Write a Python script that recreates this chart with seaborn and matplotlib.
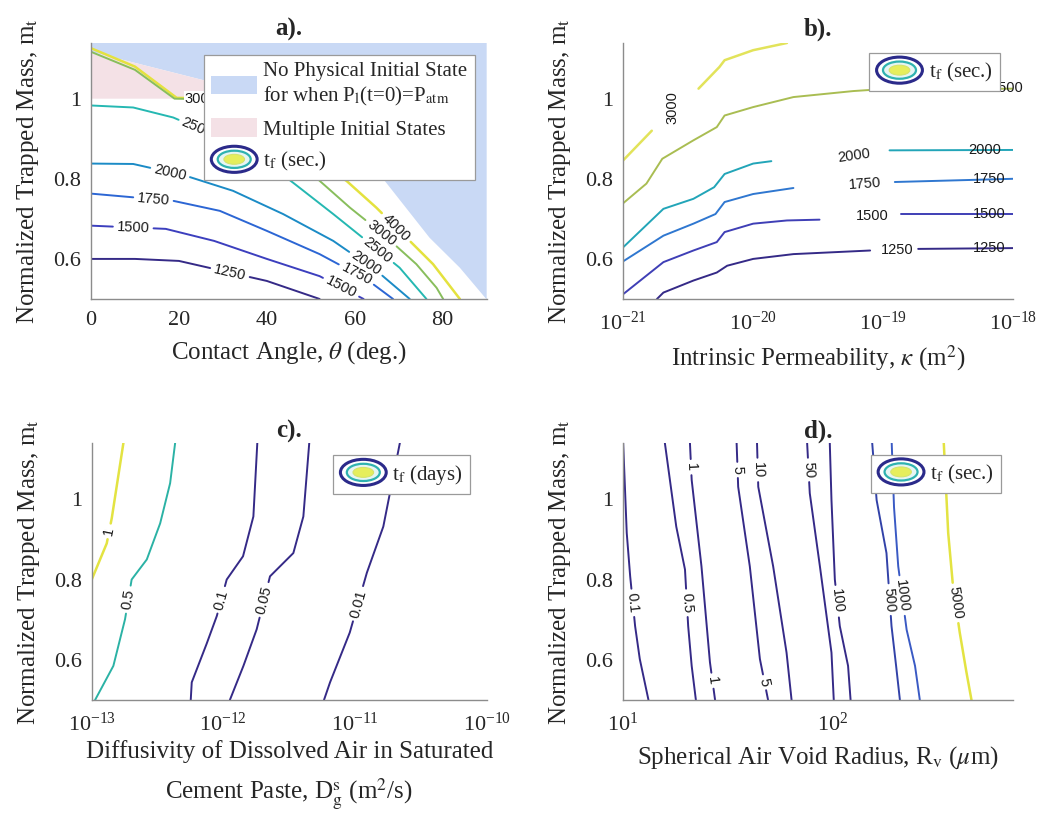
import numpy as np
import matplotlib
matplotlib.use("Agg")
import matplotlib.pyplot as plt
import seaborn as sns
from matplotlib.patches import Ellipse, Patch
from matplotlib.legend_handler import HandlerBase
from matplotlib.font_manager import FontProperties
from matplotlib.ticker import FixedLocator, FuncFormatter, LogLocator, NullFormatter

# =========================================
# DATA
# =========================================

# a) contact angle (deg) vs normalized trapped mass, t_f contours (sec.)
a_theta_1250 = [0, 10, 20, 30, 40, 52]
a_mt_1250 = [0.600, 0.600, 0.595, 0.570, 0.545, 0.500]
a_theta_1500 = [0, 17, 28, 40, 52, 62]
a_mt_1500 = [0.683, 0.675, 0.645, 0.600, 0.557, 0.500]
a_theta_1750 = [0, 18.7, 29.3, 40, 52, 62.7, 68.7]
a_mt_1750 = [0.763, 0.745, 0.720, 0.670, 0.612, 0.549, 0.500]
a_theta_2000 = [0, 9.6, 21.7, 32.3, 43.7, 55.1, 65, 72.5]
a_mt_2000 = [0.838, 0.837, 0.807, 0.770, 0.712, 0.645, 0.570, 0.500]
a_theta_2500 = [0, 9.6, 18.7, 30, 40, 46, 55.1, 62.7, 70.2, 76.3]
a_mt_2500 = [0.983, 0.978, 0.953, 0.900, 0.840, 0.790, 0.712, 0.645, 0.578, 0.500]
a_theta_3000 = [0, 10, 19, 25, 35, 45, 52, 58.9, 66.4, 74, 78.6, 80.1]
a_mt_3000 = [1.117, 1.072, 1.000, 0.999, 0.930, 0.860, 0.795, 0.728, 0.662, 0.587, 0.528, 0.500]
a_theta_4000 = [0, 10, 19.5, 25, 40, 58.1, 64.9, 72.5, 77.8, 83.9]
a_mt_4000 = [1.126, 1.080, 1.002, 1.001, 0.920, 0.795, 0.728, 0.645, 0.587, 0.500]

# regions in a)
a_nophys_theta = [0, 0, 26, 45, 66.8, 77, 83.9, 89.9, 90, 90]
a_nophys_mt = [1.14, 1.117, 1.045, 0.95, 0.795, 0.653, 0.578, 0.50, 0.50, 1.14]
a_multi_theta = [0, 0, 26, 32]
a_multi_mt = [1.0, 1.117, 1.045, 1.0]

# b) intrinsic permeability (m^2), t_f contours (sec.)
b_k_1250 = [1.82e-21, 2.04e-21, 3.47e-21, 5.25e-21, 6.31e-21, 1.0e-20, 2.04e-20, 7.94e-20]
b_mt_1250 = [0.500, 0.516, 0.546, 0.566, 0.583, 0.600, 0.612, 0.621]
b_k_1250r = [1.86e-19, 1.0e-18]
b_mt_1250r = [0.625, 0.627]
b_k_1500 = [1.0e-21, 2.04e-21, 3.47e-21, 5.25e-21, 6.03e-21, 1.0e-20, 1.82e-20, 3.24e-20]
b_mt_1500 = [0.512, 0.592, 0.621, 0.642, 0.667, 0.688, 0.696, 0.698]
b_k_1500r = [1.38e-19, 1.0e-18]
b_mt_1500r = [0.712, 0.712]
b_k_1750 = [1.0e-21, 2.04e-21, 3.47e-21, 5.13e-21, 6.03e-21, 1.0e-20, 2.04e-20]
b_mt_1750 = [0.594, 0.658, 0.688, 0.712, 0.742, 0.762, 0.777]
b_k_1750r = [1.23e-19, 1.0e-18]
b_mt_1750r = [0.792, 0.800]
b_k_2000 = [1.0e-21, 2.04e-21, 3.47e-21, 5.01e-21, 6.03e-21, 1.0e-20, 1.38e-20]
b_mt_2000 = [0.629, 0.725, 0.750, 0.779, 0.812, 0.838, 0.844]
b_k_2000r = [1.12e-19, 1.0e-18]
b_mt_2000r = [0.871, 0.872]
b_k_2500 = [1.0e-21, 1.51e-21, 2.0e-21, 3.47e-21, 5.25e-21, 6.03e-21, 1.0e-20, 2.04e-20, 5.89e-20, 8.13e-20, 1.0e-18]
b_mt_2500 = [0.739, 0.788, 0.850, 0.896, 0.929, 0.958, 0.979, 1.004, 1.019, 1.022, 1.025]
b_k_3000 = [1.0e-21, 1.66e-21]
b_mt_3000 = [0.846, 0.920]
b_k_3000r = [3.8e-21, 5.5e-21, 6.03e-21, 1.0e-20, 1.82e-20]
b_mt_3000r = [1.025, 1.079, 1.096, 1.121, 1.139]

# c) diffusivity of dissolved air (m^2/s), t_f contours (days)
c_d_1 = [1.0e-13, 1.30e-13, 1.42e-13, 1.74e-13]
c_mt_1 = [0.80, 0.89, 0.953, 1.14]
c_d_05 = [1.06e-13, 1.46e-13, 1.79e-13, 2.01e-13, 2.62e-13, 3.31e-13, 3.94e-13, 4.30e-13]
c_mt_05 = [0.50, 0.585, 0.701, 0.80, 0.85, 0.94, 1.04, 1.14]
c_d_01 = [5.65e-13, 5.75e-13, 7.46e-13, 8.91e-13, 1.06e-12, 1.41e-12, 1.69e-12, 1.81e-12]
c_mt_01 = [0.50, 0.544, 0.64, 0.709, 0.80, 0.858, 0.957, 1.14]
c_d_005 = [1.12e-12, 1.42e-12, 1.79e-12, 2.26e-12, 3.40e-12, 4.05e-12, 4.49e-12]
c_mt_005 = [0.50, 0.585, 0.676, 0.808, 0.866, 0.957, 1.14]
c_d_001 = [5.81e-12, 6.46e-12, 9.12e-12, 1.23e-11, 1.64e-11, 1.84e-11, 2.19e-11]
c_mt_001 = [0.50, 0.544, 0.668, 0.817, 0.932, 1.015, 1.14]

# d) air void radius (um), t_f contours (sec.)
d_r_01 = [10.0, 10.4, 10.8, 11.4, 12.0, 13.2]
d_mt_01 = [1.14, 0.916, 0.808, 0.684, 0.602, 0.50]
d_r_05 = [15.8, 17.9, 19.7, 20.4, 21.2, 22.2]
d_mt_05 = [1.14, 0.932, 0.825, 0.684, 0.585, 0.50]
d_r_1 = [20.8, 21.2, 23.6, 25.9, 27.4]
d_mt_1 = [1.14, 1.048, 0.833, 0.594, 0.50]
d_r_5 = [34.7, 35.3, 40.1, 44.8, 49.0]
d_mt_5 = [1.14, 1.031, 0.833, 0.602, 0.50]
d_r_10 = [43.4, 44.0, 51.8, 60.0, 63.4]
d_mt_10 = [1.14, 1.031, 0.833, 0.618, 0.50]
d_r_50 = [75.2, 77.4, 86.5, 98.2, 100.7]
d_mt_50 = [1.14, 1.015, 0.833, 0.618, 0.50]
d_r_100 = [96.4, 98.2, 101.9, 107.6, 117.8, 121.1]
d_mt_100 = [1.14, 0.998, 0.80, 0.684, 0.585, 0.50]
d_r_500 = [153.5, 161.1, 179.5, 189.7, 199.5, 208.0]
d_mt_500 = [1.14, 0.998, 0.866, 0.684, 0.585, 0.50]
d_r_1000 = [190.1, 195.0, 204.2, 223.9, 245.5, 258.8]
d_mt_1000 = [1.14, 0.98, 0.833, 0.675, 0.585, 0.50]
d_r_5000 = [336.5, 353.2, 372.4, 400.9, 431.5, 456.0]
d_mt_5000 = [1.14, 0.916, 0.783, 0.668, 0.569, 0.50]

# axis tick values
a_xticks = [0, 20, 40, 60, 80]
b_xticks = [1e-21, 1e-20, 1e-19, 1e-18]
c_xticks = [1e-13, 1e-12, 1e-11, 1e-10]
d_xticks = [10, 100]
mt_ticks = [0.6, 0.8, 1.0]

# =========================================
# STYLE
# =========================================
sns.set_theme(style="white")
plt.rcParams["font.family"] = ["Liberation Serif", "DejaVu Serif"]
plt.rcParams["mathtext.fontset"] = "stix"

NAVY = "#352a87"
BLUE_REGION = "#c9d9f5"
PINK_REGION = "#f4e1e6"
AX_GREY = "#8c8c8c"
TXT = "#262626"
LABEL_FONT = FontProperties(family=["Liberation Sans", "DejaVu Sans"], size=10.5)

fig = plt.figure(figsize=(10.58, 8.25), dpi=100)
ax_a = fig.add_axes([0.086, 0.6376, 0.374, 0.3103])
ax_b = fig.add_axes([0.589, 0.6376, 0.3686, 0.3103])
ax_c = fig.add_axes([0.0867, 0.1515, 0.3733, 0.311])
ax_d = fig.add_axes([0.589, 0.1515, 0.3686, 0.311])
renderer = fig.canvas.get_renderer()


def style_axes(ax, xticks, xlim, log=False):
    for side in ["top", "right"]:
        ax.spines[side].set_visible(False)
    for side in ["left", "bottom"]:
        ax.spines[side].set_color(AX_GREY)
        ax.spines[side].set_linewidth(1.0)
    if log:
        ax.set_xscale("log")
        ax.xaxis.set_minor_locator(LogLocator(base=10, subs=np.arange(2, 10)))
        ax.xaxis.set_minor_formatter(NullFormatter())
    ax.set_xlim(*xlim)
    ax.set_ylim(0.5, 1.139)
    ax.xaxis.set_major_locator(FixedLocator(xticks))
    ax.yaxis.set_major_locator(FixedLocator(mt_ticks))
    ax.yaxis.set_major_formatter(FuncFormatter(lambda v, p: f"{v:g}"))
    if log:
        ax.xaxis.set_major_formatter(
            FuncFormatter(lambda v, p: r"$\mathdefault{10^{%d}}$" % round(np.log10(v))))
    ax.tick_params(which="major", direction="in", length=4, color=AX_GREY,
                   labelsize=16, labelcolor=TXT)
    ax.tick_params(which="minor", direction="in", length=2.5, color=AX_GREY)
    ax.tick_params(axis="x", pad=9)
    ax.tick_params(axis="y", pad=7)


def point_at(pts, s, sv):
    return np.array([np.interp(sv, s, pts[:, 0]), np.interp(sv, s, pts[:, 1])])


def contour_line(ax, xs, ys, color, labels=(), lw=1.4, box=False):
    """draw one contour polyline, with in-line labels cut into it"""
    tr = ax.transData
    pts = tr.transform(np.column_stack([xs, ys]))
    seg = np.hypot(*np.diff(pts, axis=0).T)
    s = np.concatenate([[0.0], np.cumsum(seg)])
    cuts = []
    for text, lx, ly in labels:
        p = tr.transform((lx, ly))
        best = None
        for i in range(len(pts) - 1):
            a, b = pts[i], pts[i + 1]
            d = b - a
            t = np.clip(np.dot(p - a, d) / np.dot(d, d), 0, 1)
            q = a + t * d
            dist = np.hypot(*(p - q))
            if best is None or dist < best[0]:
                best = (dist, s[i] + t * seg[i], q, d)
        _, s0, q, d = best
        ang = np.degrees(np.arctan2(d[1], d[0]))
        if ang > 90:
            ang -= 180
        elif ang <= -90:
            ang += 180
        w = renderer.get_text_width_height_descent(text, LABEL_FONT, ismath=False)[0]
        cuts.append((s0 - w / 2 - 4, s0 + w / 2 + 4))
        qx, qy = tr.inverted().transform(q)
        kw = {}
        if box:
            kw["bbox"] = dict(facecolor="white", edgecolor="none", pad=0.5)
        ax.text(qx, qy, text, rotation=ang, rotation_mode="anchor", ha="center",
                va="center", fontproperties=LABEL_FONT, color="#1a1a1a", zorder=4, **kw)
    keep, start = [], 0.0
    for c0, c1 in sorted(cuts):
        if c0 > start:
            keep.append((start, c0))
        start = max(start, c1)
    if start < s[-1]:
        keep.append((start, s[-1]))
    for k0, k1 in keep:
        inner = pts[(s > k0) & (s < k1)]
        piece = np.vstack([point_at(pts, s, k0), inner, point_at(pts, s, k1)])
        px, py = tr.inverted().transform(piece).T
        sns.lineplot(x=px, y=py, sort=False, estimator=None, color=color, lw=lw, ax=ax)


def plain_label(ax, text, x, y, rot=0):
    ax.text(x, y, text, rotation=rot, rotation_mode="anchor", ha="center", va="center",
            fontproperties=LABEL_FONT, color="#1a1a1a", zorder=4)


class ContourKey:
    pass


class ContourKeyHandler(HandlerBase):
    def create_artists(self, legend, orig_handle, xdescent, ydescent, width, height,
                       fontsize, trans):
        cx, cy = 0.5 * width - xdescent, 0.5 * height - ydescent
        h = height * 1.4
        rings = [
            Ellipse((cx, cy), width, h, facecolor="white", edgecolor="#2b2a8a", lw=2.2),
            Ellipse((cx, cy), width * 0.72, h * 0.66, facecolor="#e6f5f3",
                    edgecolor="#2fb2b0", lw=1.6),
            Ellipse((cx, cy), width * 0.45, h * 0.38, facecolor="#e6ee5c",
                    edgecolor="#d4e36e", lw=0.8),
        ]
        for r in rings:
            r.set_transform(trans)
        return rings


def contour_legend(ax, handles, labels, anchor, spacing=0.35):
    leg = ax.legend(handles, labels, loc="upper right", bbox_to_anchor=anchor,
                    borderaxespad=0, frameon=True, fancybox=False, framealpha=1,
                    edgecolor="#9a9a9a", fontsize=15, handlelength=2.2, handleheight=1.0,
                    handletextpad=0.3, borderpad=0.35, labelspacing=spacing,
                    handler_map={ContourKey: ContourKeyHandler()})
    leg.get_frame().set_linewidth(0.9)
    leg.set_zorder(10)
    for t in leg.get_texts():
        t.set_color(TXT)
    return leg


ylab = r"Normalized Trapped Mass, m$_{\rm t}$"

# =========================================
# a) CONTACT ANGLE
# =========================================
style_axes(ax_a, a_xticks, (0, 90))
ax_a.fill(a_nophys_theta, a_nophys_mt, color=BLUE_REGION, lw=0, zorder=0.5)
ax_a.fill(a_multi_theta, a_multi_mt, color=PINK_REGION, lw=0, zorder=0.6)

contour_line(ax_a, a_theta_1250, a_mt_1250, "#352a87", [("1250", 31.6, 0.566)])
contour_line(ax_a, a_theta_1500, a_mt_1500, "#3c3fbe",
             [("1500", 9.6, 0.678), ("1500", 57.0, 0.532)])
contour_line(ax_a, a_theta_1750, a_mt_1750, "#2c66d4",
             [("1750", 14.2, 0.749), ("1750", 60.8, 0.57)])
contour_line(ax_a, a_theta_2000, a_mt_2000, "#1b8bc6",
             [("2000", 18.0, 0.816), ("2000", 62.7, 0.591)])
contour_line(ax_a, a_theta_2500, a_mt_2500, "#25b8b2",
             [("2500", 24.3, 0.93), ("2500", 65.7, 0.628)])
contour_line(ax_a, a_theta_4000, a_mt_4000, "#e4e23e", [("4000", 69.8, 0.6825)], lw=1.8)
contour_line(ax_a, a_theta_3000, a_mt_3000, "#88be5c", [("3000", 66.4, 0.67)])
contour_line(ax_a, [25.0, 25.1], [0.999, 0.999], "#88be5c", [("3000", 25.2, 0.999)], box=True)

contour_legend(
    ax_a,
    [Patch(facecolor=BLUE_REGION, edgecolor="none"),
     Patch(facecolor=PINK_REGION, edgecolor="none"), ContourKey()],
    ["No Physical Initial State\nfor when P$_{\\rm l}$(t=0)=P$_{\\rm atm}$",
     "Multiple Initial States", r"t$_{\rm f}$ (sec.)"],
    (0.970, 0.953), spacing=0.5)
ax_a.set_title("a).", fontsize=18, fontweight="bold", color=TXT, pad=5)
ax_a.set_xlabel(r"Contact Angle, $\theta$ (deg.)", fontsize=18, color=TXT, labelpad=6)
ax_a.set_ylabel(ylab, fontsize=18, color=TXT, labelpad=9)

# =========================================
# b) PERMEABILITY
# =========================================
style_axes(ax_b, b_xticks, (1e-21, 1e-18), log=True)
contour_line(ax_b, b_k_1250, b_mt_1250, "#352a87")
contour_line(ax_b, b_k_1250r, b_mt_1250r, "#352a87")
contour_line(ax_b, b_k_1500, b_mt_1500, "#3f3fb6")
contour_line(ax_b, b_k_1500r, b_mt_1500r, "#3f3fb6")
contour_line(ax_b, b_k_1750, b_mt_1750, "#2f77d0")
contour_line(ax_b, b_k_1750r, b_mt_1750r, "#2f77d0")
contour_line(ax_b, b_k_2000, b_mt_2000, "#22a5b8")
contour_line(ax_b, b_k_2000r, b_mt_2000r, "#22a5b8")
contour_line(ax_b, b_k_2500, b_mt_2500, "#a9bd52")
contour_line(ax_b, b_k_3000, b_mt_3000, "#e2e35a", lw=1.8)
contour_line(ax_b, b_k_3000r, b_mt_3000r, "#e2e35a", lw=1.8)

plain_label(ax_b, "1250", 1.29e-19, 0.623)
plain_label(ax_b, "1500", 8.3e-20, 0.708)
plain_label(ax_b, "1750", 7.2e-20, 0.787, rot=4)
plain_label(ax_b, "2000", 6.0e-20, 0.858, rot=8)
plain_label(ax_b, "3000", 2.4e-21, 0.979, rot=90)
plain_label(ax_b, "1250", 6.6e-19, 0.627)
plain_label(ax_b, "1500", 6.6e-19, 0.712)
plain_label(ax_b, "1750", 6.6e-19, 0.800)
plain_label(ax_b, "2000", 6.0e-19, 0.872)
plain_label(ax_b, "2500", 8.9e-19, 1.027)

contour_legend(ax_b, [ContourKey()], [r"t$_{\rm f}$ (sec.)"], (0.966, 0.959))
ax_b.set_title("b).", fontsize=18, fontweight="bold", color=TXT, pad=5)
ax_b.set_xlabel(r"Intrinsic Permeability, $\kappa$ (m$^2$)", fontsize=18, color=TXT,
                labelpad=6)
ax_b.set_ylabel(ylab, fontsize=18, color=TXT, labelpad=9)

# =========================================
# c) DIFFUSIVITY
# =========================================
style_axes(ax_c, c_xticks, (1e-13, 1e-10), log=True)
contour_line(ax_c, c_d_1, c_mt_1, "#e3e342", [("1", 1.36e-13, 0.92)], lw=1.8)
contour_line(ax_c, c_d_05, c_mt_05, "#2bb2a5", [("0.5", 1.9e-13, 0.75)])
contour_line(ax_c, c_d_01, c_mt_01, NAVY, [("0.1", 9.5e-13, 0.75)])
contour_line(ax_c, c_d_005, c_mt_005, NAVY, [("0.05", 2.0e-12, 0.75)])
contour_line(ax_c, c_d_001, c_mt_001, NAVY, [("0.01", 1.05e-11, 0.74)])

contour_legend(ax_c, [ContourKey()], [r"t$_{\rm f}$ (days)"], (0.958, 0.954))
ax_c.set_title("c).", fontsize=18, fontweight="bold", color=TXT, pad=4)
ax_c.set_xlabel("Diffusivity of Dissolved Air in Saturated\n"
                r"Cement Paste, D$_{\rm g}^{\rm s}$ (m$^2$/s)",
                fontsize=18, color=TXT, labelpad=3, linespacing=1.6)
ax_c.set_ylabel(ylab, fontsize=18, color=TXT, labelpad=9)

# =========================================
# d) AIR VOID RADIUS
# =========================================
style_axes(ax_d, d_xticks, (10, 720), log=True)
contour_line(ax_d, d_r_01, d_mt_01, NAVY, [("0.1", 11.1, 0.742)])
contour_line(ax_d, d_r_05, d_mt_05, NAVY, [("0.5", 20.1, 0.742)])
contour_line(ax_d, d_r_1, d_mt_1, NAVY, [("1", 21.0, 1.08), ("1", 26.5, 0.548)])
contour_line(ax_d, d_r_5, d_mt_5, NAVY, [("5", 35.0, 1.073), ("5", 47.0, 0.544)])
contour_line(ax_d, d_r_10, d_mt_10, NAVY, [("10", 43.7, 1.073)])
contour_line(ax_d, d_r_50, d_mt_50, NAVY, [("50", 76.0, 1.073)])
contour_line(ax_d, d_r_100, d_mt_100, NAVY, [("100", 104, 0.746)])
contour_line(ax_d, d_r_500, d_mt_500, "#3242a8", [("500", 185, 0.75)])
contour_line(ax_d, d_r_1000, d_mt_1000, "#3a5ac4", [("1000", 212, 0.76)])
contour_line(ax_d, d_r_5000, d_mt_5000, "#e3e342", [("5000", 386, 0.742)], lw=1.8)

contour_legend(ax_d, [ContourKey()], [r"t$_{\rm f}$ (sec.)"], (0.970, 0.954))
ax_d.set_title("d).", fontsize=18, fontweight="bold", color=TXT, pad=4)
ax_d.set_xlabel(r"Spherical Air Void Radius, R$_{\rm v}$ ($\mu$m)", fontsize=18,
                color=TXT, labelpad=6)
ax_d.set_ylabel(ylab, fontsize=18, color=TXT, labelpad=9)

fig.savefig("out.png", dpi=100)
